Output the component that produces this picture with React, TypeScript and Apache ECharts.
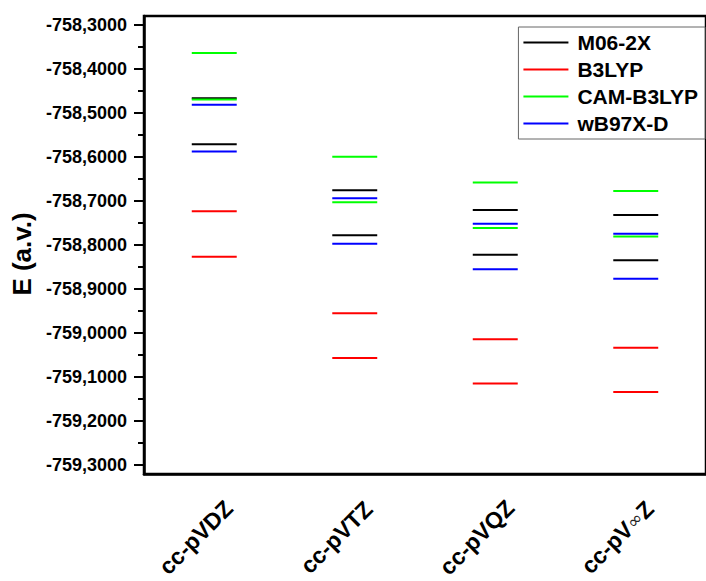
import React, { useEffect, useRef } from "react";
import * as echarts from "echarts";

const categories = ["cc-pVDZ", "cc-pVTZ", "cc-pVQZ", "cc-pV∞Z"];
const methods = ["M06-2X", "B3LYP", "CAM-B3LYP", "wB97X-D"];
const colors = ["#000000", "#ff0000", "#00ff00", "#0000ff"];

// two levels per basis set for every method
const m062xUpper = [-758.4667, -758.676, -758.7204, -758.732];
const m062xLower = [-758.571, -758.778, -758.8225, -758.8345];
const b3lypUpper = [-758.7234, -758.955, -759.014, -759.0336];
const b3lypLower = [-758.827, -759.0568, -759.1146, -759.134];
const camUpper = [-758.3638, -758.5995, -758.658, -758.6776];
const camLower = [-758.4696, -758.703, -758.7617, -758.781];
const wb97Upper = [-758.4817, -758.694, -758.752, -758.7745];
const wb97Lower = [-758.5875, -758.797, -758.855, -758.8766];

const majorTicks = [-759.3, -759.2, -759.1, -759.0, -758.9, -758.8, -758.7, -758.6, -758.5, -758.4, -758.3];
const minorTicks = [-759.25, -759.15, -759.05, -758.95, -758.85, -758.75, -758.65, -758.55, -758.45, -758.35];

const levels = [
  [m062xUpper, m062xLower],
  [b3lypUpper, b3lypLower],
  [camUpper, camLower],
  [wb97Upper, wb97Lower],
];

const FONT = "'Liberation Sans', Arial, sans-serif";

export default function App() {
  const ref = useRef<HTMLDivElement>(null);
  useEffect(() => {
    if (!ref.current) return;
    const chart = echarts.init(ref.current, null, { renderer: "svg" });
    const series = methods.map((name, i) => {
      const data: number[][] = [];
      levels[i].forEach((arr) => arr.forEach((v, c) => data.push([c, v])));
      return {
        name,
        type: "custom",
        clip: false,
        itemStyle: { color: colors[i] },
        data,
        renderItem: (params: any, api: any) => {
          const p = api.coord([api.value(0), api.value(1)]);
          const band = api.size([1, 0])[0];
          const hw = band * 0.16;
          return {
            type: "line",
            shape: { x1: p[0] - hw, y1: p[1], x2: p[0] + hw, y2: p[1] },
            style: { stroke: colors[i], lineWidth: 2 },
          };
        },
      };
    });
    chart.setOption({
      animation: false,
      backgroundColor: "#ffffff",
      textStyle: { fontFamily: FONT },
      grid: {
        left: 144,
        top: 16,
        bottom: 103,
        right: -13,
        show: true,
        borderColor: "#000",
        borderWidth: 2.5,
        backgroundColor: "transparent",
      },
      legend: {
        orient: "vertical",
        right: 1,
        top: 27,
        data: methods.map((m) => ({ name: m, icon: "rect" })),
        itemWidth: 45,
        itemHeight: 2,
        itemGap: 6,
        padding: [5, 7, 5, 5],
        borderColor: "#666",
        borderWidth: 1,
        backgroundColor: "#fff",
        selectedMode: false,
        textStyle: {
          fontFamily: FONT,
          fontSize: 21,
          fontWeight: "bold",
          color: "#000",
          padding: [0, 0, 0, 4],
          lineHeight: 21,
        },
      },
      xAxis: {
        type: "category",
        data: categories,
        boundaryGap: true,
        axisLine: { lineStyle: { color: "#000", width: 2.5 } },
        axisTick: { alignWithLabel: true, length: 9, lineStyle: { color: "#000", width: 2 } },
        splitLine: { show: false },
        axisLabel: {
          rotate: 45,
          align: "center",
          verticalAlign: "middle",
          margin: 45,
          padding: [0, 52, 0, 0],
          fontFamily: FONT,
          fontSize: 23,
          fontWeight: "bold",
          color: "#000",
          interval: 0,
          formatter: (v: string) => v.replace("∞", "{inf|∞}"),
          rich: {
            inf: { fontFamily: "'DejaVu Sans', sans-serif", fontSize: 18, fontWeight: "normal", color: "#222" },
          },
        },
      },
      yAxis: [
        {
          type: "value",
          min: -759.32,
          max: -758.28,
          name: "E (a.v.)",
          nameLocation: "middle",
          nameRotate: 90,
          nameGap: 107,
          nameTextStyle: { fontFamily: FONT, fontSize: 26, fontWeight: "bold", color: "#000", padding: [0, 18, 0, 0] },
          axisLine: { show: true, lineStyle: { color: "#000", width: 2.5 } },
          axisTick: { show: true, customValues: majorTicks, length: 10, lineStyle: { color: "#000", width: 2 } },
          axisLabel: {
            customValues: majorTicks,
            margin: 17,
            fontFamily: FONT,
            fontSize: 18,
            fontWeight: "bold",
            color: "#000",
            formatter: (v: number) => v.toFixed(4).replace(".", ","),
          },
          splitLine: { show: false },
        },
        {
          type: "value",
          min: -759.32,
          max: -758.28,
          position: "left",
          axisLine: { show: false },
          axisTick: { show: true, customValues: minorTicks, length: 6, lineStyle: { color: "#000", width: 2 } },
          axisLabel: { show: false },
          splitLine: { show: false },
        },
      ],
      series,
    });
    return () => chart.dispose();
  }, []);
  return (
    <div
      ref={ref}
      style={{ position: "fixed", left: 0, top: 0, width: 706, height: 581 }}
    />
  );
}
